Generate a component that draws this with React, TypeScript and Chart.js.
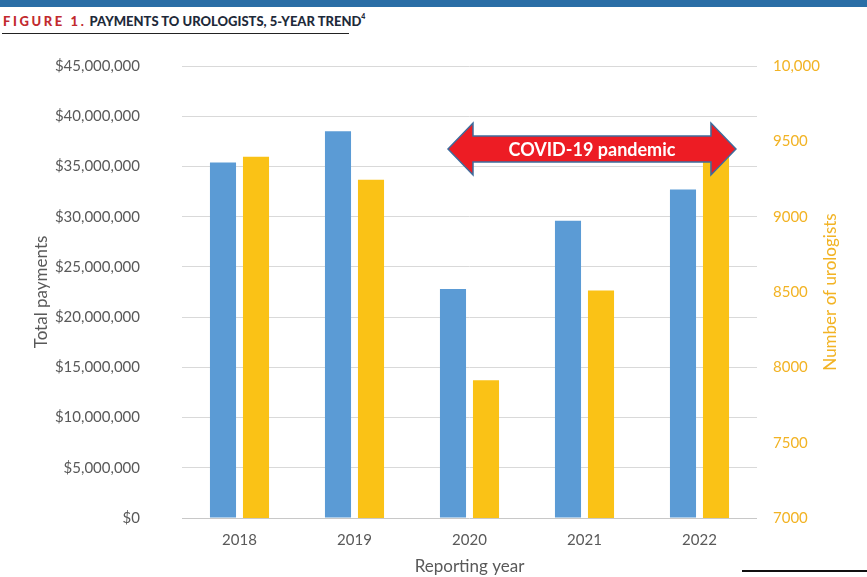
import React, { useEffect, useRef } from "react";
import { Chart, registerables } from "chart.js";

Chart.register(...registerables);

const years = ["2018", "2019", "2020", "2021", "2022"];
const totalPayments = [35400000, 38500000, 22800000, 29600000, 32700000];
const numUrologists = [9397, 9245, 7914, 8510, 9430];
const leftTicks = [0, 5000000, 10000000, 15000000, 20000000, 25000000, 30000000, 35000000, 40000000, 45000000];
const rightTicks = [7000, 7500, 8000, 8500, 9000, 9500, 10000];
const leftTitle = "Total payments";
const rightTitle = "Number of urologists";

const FONT = "Lato, 'Open Sans', sans-serif";

const titlesPlugin = {
  id: "sideTitles",
  afterDraw(chart: any) {
    const { ctx, chartArea } = chart;
    const cy = (chartArea.top + chartArea.bottom) / 2;
    ctx.save();
    ctx.font = `17px ${FONT}`;
    ctx.textAlign = "center";
    ctx.textBaseline = "middle";
    ctx.fillStyle = "#595959";
    ctx.translate(42, cy);
    ctx.rotate(-Math.PI / 2);
    ctx.fillText(leftTitle, 0, 0);
    ctx.restore();
    ctx.save();
    ctx.font = `17px ${FONT}`;
    ctx.textAlign = "center";
    ctx.textBaseline = "middle";
    ctx.fillStyle = "#F2B324";
    ctx.translate(831, cy);
    ctx.rotate(-Math.PI / 2);
    ctx.fillText(rightTitle, 0, 0);
    ctx.restore();
  },
};

const arrowPlugin = {
  id: "covidArrow",
  afterDatasetsDraw(chart: any) {
    const { ctx } = chart;
    const x = chart.scales.x;
    const left = x.getPixelForValue(1.813);
    const right = x.getPixelForValue(4.317);
    const cy = chart.chartArea.top + 83;
    const head = 25;
    const hh = 26;
    const sh = 13;
    ctx.save();
    ctx.beginPath();
    ctx.moveTo(left, cy);
    ctx.lineTo(left + head, cy - hh);
    ctx.lineTo(left + head, cy - sh);
    ctx.lineTo(right - head, cy - sh);
    ctx.lineTo(right - head, cy - hh);
    ctx.lineTo(right, cy);
    ctx.lineTo(right - head, cy + hh);
    ctx.lineTo(right - head, cy + sh);
    ctx.lineTo(left + head, cy + sh);
    ctx.lineTo(left + head, cy + hh);
    ctx.closePath();
    ctx.fillStyle = "#ED1C24";
    ctx.fill();
    ctx.lineWidth = 1.5;
    ctx.strokeStyle = "#3E6C9C";
    ctx.stroke();
    ctx.fillStyle = "#FFFFFF";
    ctx.font = `bold 18px ${FONT}`;
    ctx.textAlign = "center";
    ctx.textBaseline = "middle";
    ctx.fillText("COVID-19 pandemic", (left + right) / 2, cy + 1);
    ctx.restore();
  },
};

export default function App() {
  const ref = useRef<HTMLCanvasElement>(null);
  useEffect(() => {
    document.body.style.margin = "0";
    const chart = new Chart(ref.current as HTMLCanvasElement, {
      type: "bar",
      data: {
        labels: years,
        datasets: [
          {
            label: leftTitle,
            data: totalPayments,
            backgroundColor: "#5B9BD5",
            yAxisID: "y",
            categoryPercentage: 0.574,
            barPercentage: 0.79,
          },
          {
            label: rightTitle,
            data: numUrologists,
            backgroundColor: "#FAC216",
            yAxisID: "y1",
            categoryPercentage: 0.574,
            barPercentage: 0.79,
          },
        ],
      },
      options: {
        animation: false,
        responsive: false,
        maintainAspectRatio: false,
        layout: { padding: { top: 66, left: 0, right: 0, bottom: 0 } },
        plugins: { legend: { display: false }, tooltip: { enabled: false } },
        scales: {
          x: {
            grid: { display: false, drawTicks: false },
            border: { display: false },
            ticks: { color: "#595959", font: { family: FONT, size: 15 }, padding: 13 },
            title: { display: true, text: "Reporting year", color: "#595959", font: { family: FONT, size: 17 }, padding: { top: 3, bottom: 0 } },
            afterFit: (s: any) => { s.height = 59; },
          },
          y: {
            position: "left",
            min: 0,
            max: 45000000,
            afterBuildTicks: (s: any) => { s.ticks = leftTicks.map((v) => ({ value: v })); },
            grid: { color: (c: any) => (c.tick && c.tick.value === 0 ? "#C8C8C8" : "#D9D9D9"), drawTicks: false },
            border: { display: false },
            ticks: {
              color: "#595959",
              font: { family: FONT, size: 15 },
              padding: 42,
              callback: (v: any) => "$" + Number(v).toLocaleString("en-US"),
            },
            afterFit: (s: any) => { s.width = 182; },
          },
          y1: {
            position: "right",
            min: 7000,
            max: 10000,
            afterBuildTicks: (s: any) => { s.ticks = rightTicks.map((v) => ({ value: v })); },
            grid: { display: false, drawTicks: false },
            border: { display: false },
            ticks: {
              color: "#F2B324",
              font: { family: FONT, size: 15 },
              padding: 16,
              callback: (v: any) => (v === 10000 ? "10,000" : String(v)),
            },
            afterFit: (s: any) => { s.width = 110; },
          },
        },
      },
      plugins: [arrowPlugin, titlesPlugin],
    });
    return () => chart.destroy();
  }, []);

  return (
    <div style={{ position: "relative", width: 867, height: 577, background: "#FFFFFF", overflow: "hidden" }}>
      <div style={{ position: "absolute", left: 0, top: 0, width: 867, height: 7, background: "#2A6EA6" }} />
      <div
        style={{
          position: "absolute",
          left: 3,
          top: 13,
          fontFamily: FONT,
          fontWeight: 900,
          fontSize: 13,
          color: "#1E2A3A",
          whiteSpace: "nowrap",
        }}
      >
        <span style={{ color: "#C22A2E", letterSpacing: 2.6 }}>FIGURE 1.</span>{" "}
        <span>PAYMENTS TO UROLOGISTS, 5-YEAR TREND</span>
        <sup style={{ fontSize: 7, verticalAlign: "top", position: "relative", top: -1 }}>4</sup>
      </div>
      <div style={{ position: "absolute", left: 2, top: 33, width: 347, height: 1, background: "#222" }} />
      <canvas ref={ref} width={867} height={577} style={{ position: "absolute", left: 0, top: 0 }} />
      <div style={{ position: "absolute", left: 742, top: 570, width: 125, height: 1.5, background: "#111" }} />
    </div>
  );
}
